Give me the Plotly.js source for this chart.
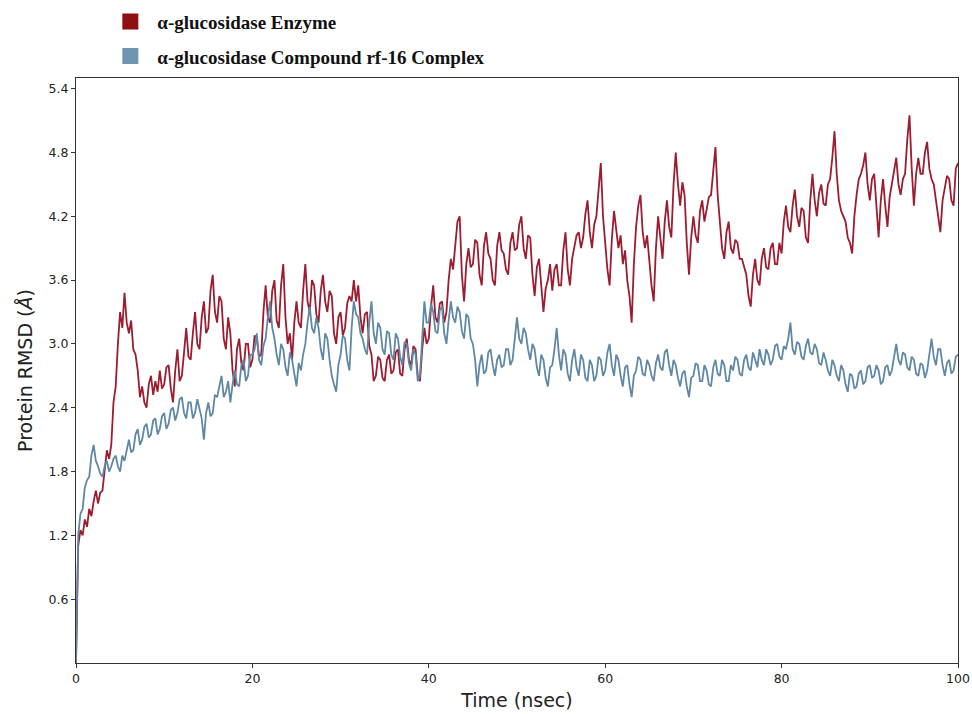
<!DOCTYPE html>
<html>
<head>
<meta charset="utf-8">
<script src="https://cdn.plot.ly/plotly-3.0.1.min.js"></script>
<style>html,body{margin:0;padding:0;background:#fff;}#chart{width:972px;height:714px;}</style>
</head>
<body>
<div id="chart"></div>
<script>
// Time axis (nsec), one sample every 0.25 ns
const timeNs = [0,0.25,0.5,0.75,1,1.25,1.5,1.75,2,2.25,2.5,2.75,3,3.25,3.5,3.75,4,4.25,4.5,4.75,5,5.25,5.5,5.75,6,6.25,6.5,6.75,7,7.25,7.5,7.75,8,8.25,8.5,8.75,9,9.25,9.5,9.75,
10,10.25,10.5,10.75,11,11.25,11.5,11.75,12,12.25,12.5,12.75,13,13.25,13.5,13.75,14,14.25,14.5,14.75,15,15.25,15.5,15.75,16,16.25,16.5,16.75,17,17.25,17.5,17.75,18,18.25,18.5,18.75,19,19.25,19.5,19.75,
20,20.25,20.5,20.75,21,21.25,21.5,21.75,22,22.25,22.5,22.75,23,23.25,23.5,23.75,24,24.25,24.5,24.75,25,25.25,25.5,25.75,26,26.25,26.5,26.75,27,27.25,27.5,27.75,28,28.25,28.5,28.75,29,29.25,29.5,29.75,
30,30.25,30.5,30.75,31,31.25,31.5,31.75,32,32.25,32.5,32.75,33,33.25,33.5,33.75,34,34.25,34.5,34.75,35,35.25,35.5,35.75,36,36.25,36.5,36.75,37,37.25,37.5,37.75,38,38.25,38.5,38.75,39,39.25,39.5,39.75,
40,40.25,40.5,40.75,41,41.25,41.5,41.75,42,42.25,42.5,42.75,43,43.25,43.5,43.75,44,44.25,44.5,44.75,45,45.25,45.5,45.75,46,46.25,46.5,46.75,47,47.25,47.5,47.75,48,48.25,48.5,48.75,49,49.25,49.5,49.75,
50,50.25,50.5,50.75,51,51.25,51.5,51.75,52,52.25,52.5,52.75,53,53.25,53.5,53.75,54,54.25,54.5,54.75,55,55.25,55.5,55.75,56,56.25,56.5,56.75,57,57.25,57.5,57.75,58,58.25,58.5,58.75,59,59.25,59.5,59.75,
60,60.25,60.5,60.75,61,61.25,61.5,61.75,62,62.25,62.5,62.75,63,63.25,63.5,63.75,64,64.25,64.5,64.75,65,65.25,65.5,65.75,66,66.25,66.5,66.75,67,67.25,67.5,67.75,68,68.25,68.5,68.75,69,69.25,69.5,69.75,
70,70.25,70.5,70.75,71,71.25,71.5,71.75,72,72.25,72.5,72.75,73,73.25,73.5,73.75,74,74.25,74.5,74.75,75,75.25,75.5,75.75,76,76.25,76.5,76.75,77,77.25,77.5,77.75,78,78.25,78.5,78.75,79,79.25,79.5,79.75,
80,80.25,80.5,80.75,81,81.25,81.5,81.75,82,82.25,82.5,82.75,83,83.25,83.5,83.75,84,84.25,84.5,84.75,85,85.25,85.5,85.75,86,86.25,86.5,86.75,87,87.25,87.5,87.75,88,88.25,88.5,88.75,89,89.25,89.5,89.75,
90,90.25,90.5,90.75,91,91.25,91.5,91.75,92,92.25,92.5,92.75,93,93.25,93.5,93.75,94,94.25,94.5,94.75,95,95.25,95.5,95.75,96,96.25,96.5,96.75,97,97.25,97.5,97.75,98,98.25,98.5,98.75,99,99.25,99.5,99.75,100];

// Protein RMSD (Å) – α-glucosidase enzyme
const enzymeRmsd = [0.00,1.10,1.25,1.20,1.35,1.28,1.45,1.38,1.52,1.62,1.50,1.60,1.62,1.80,2.00,1.92,2.05,2.45,2.60,3.00,3.30,3.15,3.48,3.20,3.10,3.22,2.95,2.90,2.75,2.50,2.60,2.45,2.40,2.62,2.70,2.52,2.65,2.55,2.75,2.58,
2.62,2.78,2.80,2.58,2.45,2.75,2.95,2.65,2.70,2.92,3.15,2.88,2.85,3.10,3.30,3.00,2.95,3.25,3.40,3.10,3.15,3.50,3.65,3.30,3.20,3.45,3.40,3.05,2.95,3.25,3.10,2.75,2.60,2.95,3.05,2.82,2.75,3.00,3.00,2.78,
2.85,3.08,3.05,2.88,2.90,3.30,3.55,3.25,3.20,3.50,3.60,3.22,3.15,3.55,3.75,3.25,3.00,3.10,2.85,3.20,3.40,3.20,3.15,3.50,3.75,3.40,3.30,3.60,3.55,3.28,3.20,3.50,3.65,3.40,3.30,3.50,3.45,3.10,3.00,3.25,
3.30,3.08,3.15,3.38,3.45,3.40,3.60,3.40,3.55,3.25,3.10,3.28,3.30,2.98,2.90,2.65,2.70,2.88,2.85,2.68,2.65,2.85,2.90,2.72,2.75,2.92,2.95,2.72,2.70,2.95,3.05,2.85,2.80,2.98,2.95,2.70,2.65,2.95,3.15,3.00,
3.05,3.35,3.55,3.25,3.20,3.38,3.40,3.20,3.30,3.60,3.80,3.70,3.95,4.15,4.20,3.65,3.40,3.75,3.90,3.72,3.75,3.98,3.95,3.65,3.55,3.92,4.05,3.85,3.80,3.60,3.55,3.92,4.05,3.88,3.85,3.70,3.65,3.95,4.05,3.88,
3.90,4.12,4.20,3.90,3.80,4.02,4.00,3.65,3.45,3.72,3.80,3.50,3.30,3.52,3.60,3.75,3.50,3.70,3.75,3.55,3.55,3.88,4.05,3.70,3.55,3.80,3.90,4.02,4.05,3.90,4.00,4.22,4.35,4.05,3.90,4.12,4.20,4.45,4.70,4.20,
3.95,3.70,3.55,3.98,4.25,4.05,3.90,4.02,3.75,3.88,3.60,3.45,3.20,3.75,4.10,4.30,4.40,4.05,3.90,4.02,3.75,3.55,3.40,3.90,4.20,3.98,3.80,4.15,4.35,4.10,4.00,4.50,4.80,4.50,4.30,4.52,4.40,3.95,3.65,4.00,
4.20,4.02,3.95,4.25,4.35,4.15,4.25,4.38,4.40,4.65,4.85,4.40,4.10,3.90,3.80,4.05,4.15,3.90,3.85,3.98,3.95,3.80,3.80,3.72,3.65,3.45,3.35,3.65,3.80,3.60,3.55,3.80,3.90,3.72,3.70,3.90,3.95,3.75,3.75,3.95,
3.85,4.15,4.30,4.10,4.05,4.30,4.45,4.20,4.10,4.28,4.25,4.00,3.95,4.35,4.60,4.35,4.20,4.42,4.50,4.32,4.30,4.50,4.55,4.75,5.00,4.60,4.35,4.25,4.20,4.15,4.00,3.95,3.85,4.20,4.40,4.55,4.60,4.68,4.80,4.50,
4.35,4.55,4.60,4.25,4.00,4.35,4.55,4.30,4.10,4.38,4.50,4.62,4.75,4.50,4.40,4.55,4.60,4.92,5.15,4.65,4.30,4.60,4.75,4.60,4.60,4.80,4.90,4.65,4.55,4.50,4.35,4.18,4.05,4.35,4.45,4.58,4.55,4.35,4.30,4.65,4.70];

// Protein RMSD (Å) – α-glucosidase compound rf-16 complex
const complexRmsd = [0.00,1.20,1.40,1.45,1.65,1.72,1.75,1.95,2.05,1.90,1.85,1.78,1.75,1.85,1.90,1.80,1.85,1.92,1.95,1.85,1.80,1.95,1.90,2.00,2.10,1.98,2.00,2.15,2.20,2.05,2.10,2.22,2.25,2.12,2.15,2.28,2.30,2.15,2.20,2.32,
2.35,2.20,2.25,2.38,2.40,2.28,2.35,2.48,2.50,2.35,2.30,2.45,2.45,2.30,2.35,2.48,2.40,2.30,2.10,2.35,2.45,2.32,2.35,2.52,2.50,2.62,2.70,2.50,2.55,2.65,2.45,2.62,2.75,2.62,2.60,2.80,2.85,2.65,2.70,2.90,
2.90,2.95,3.10,2.85,2.80,2.98,3.05,3.25,3.40,3.15,3.05,2.90,2.80,3.00,2.95,2.78,2.70,2.92,2.85,2.72,2.60,2.82,2.75,2.90,3.00,3.20,3.35,3.15,3.10,3.25,3.15,2.95,2.85,3.10,3.05,2.85,2.70,2.62,2.55,2.80,
2.90,3.08,3.05,2.85,2.75,3.15,3.40,3.28,3.25,3.10,3.05,2.95,2.90,3.20,3.40,3.10,3.00,3.20,3.15,2.95,2.90,3.12,3.10,2.90,2.85,3.10,3.05,2.88,2.80,3.02,3.00,2.82,2.75,2.95,2.90,2.65,2.70,3.05,3.40,3.20,
3.20,3.38,3.30,3.12,3.10,3.32,3.35,3.10,3.00,3.22,3.40,3.25,3.20,3.35,3.30,3.12,3.05,3.28,3.25,3.05,3.00,2.85,2.60,2.80,2.90,2.72,2.75,2.92,2.95,2.80,2.70,2.85,2.90,2.78,2.80,2.95,2.95,2.80,2.85,3.05,
3.25,3.05,3.00,3.15,3.10,2.95,2.85,3.00,2.95,2.78,2.70,2.90,2.85,2.68,2.60,2.78,2.80,2.95,3.15,2.90,2.75,2.95,2.90,2.72,2.65,2.85,2.95,2.78,2.70,2.90,2.85,2.68,2.65,2.85,2.80,2.65,2.70,2.88,2.85,2.70,
2.75,2.92,3.00,2.80,2.70,2.90,2.85,2.70,2.60,2.78,2.80,2.62,2.50,2.70,2.75,2.88,2.85,2.72,2.70,2.85,2.80,2.70,2.65,2.82,2.90,2.78,2.75,2.92,2.95,2.80,2.70,2.85,2.80,2.68,2.60,2.72,2.75,2.60,2.50,2.68,
2.70,2.82,2.80,2.65,2.65,2.80,2.75,2.62,2.60,2.78,2.85,2.72,2.70,2.85,2.80,2.65,2.65,2.80,2.75,2.88,2.85,2.72,2.70,2.85,2.90,2.78,2.75,2.92,2.85,2.78,2.95,2.85,2.80,2.95,2.90,2.80,2.85,2.98,3.00,2.88,
2.85,2.98,2.95,3.05,3.20,2.95,2.90,3.02,3.00,2.88,2.85,2.98,3.05,2.92,2.90,3.00,2.95,2.82,2.80,2.92,2.85,2.75,2.70,2.85,2.80,2.70,2.65,2.80,2.75,2.62,2.55,2.72,2.70,2.58,2.60,2.72,2.75,2.62,2.65,2.78,
2.80,2.68,2.70,2.80,2.75,2.62,2.65,2.78,2.80,2.70,2.75,2.88,3.00,2.85,2.80,2.92,2.90,2.78,2.75,2.88,2.85,2.72,2.70,2.82,2.80,2.68,2.75,2.90,3.05,2.88,2.80,2.95,2.95,2.80,2.70,2.82,2.85,2.72,2.75,2.88,2.90];

const seriesNames = ["α-glucosidase Enzyme", "α-glucosidase Compound rf-16 Complex"];
const yTickVals = [0.6,1.2,1.8,2.4,3.0,3.6,4.2,4.8,5.4];
const yTickText = ["0.6","1.2","1.8","2.4","3.0","3.6","4.2","4.8","5.4"];
const xTickVals = [0,20,40,60,80,100];

const redLine = "#9c1c30";
const blueLine = "#5f88a5";
const redKey = "#8e0f14";
const blueKey = "#6e96b1";

const traces = [
  {x: timeNs, y: enzymeRmsd, type: "scatter", mode: "lines", line: {color: redLine, width: 1.8}, showlegend: false, hoverinfo: "x+y"},
  {x: timeNs, y: complexRmsd, type: "scatter", mode: "lines", line: {color: blueLine, width: 1.8}, showlegend: false, hoverinfo: "x+y"},
  {x: [null], y: [null], type: "scatter", mode: "markers", name: seriesNames[0], legendgroup: "a",
   marker: {symbol: "square", size: 19, color: redKey}},
  {x: [null], y: [null], type: "scatter", mode: "markers", name: seriesNames[1], legendgroup: "b",
   marker: {symbol: "square", size: 19, color: blueKey}}
];

const axisCommon = {
  showline: true, linecolor: "#333", linewidth: 1, mirror: true,
  ticks: "outside", ticklen: 4, tickwidth: 1, tickcolor: "#333",
  showgrid: false, zeroline: false,
  tickfont: {family: "DejaVu Sans", size: 12.5, color: "#222"}
};

const layout = {
  width: 972, height: 714,
  paper_bgcolor: "#fff", plot_bgcolor: "#fff",
  margin: {l: 76, r: 14, t: 78, b: 51, autoexpand: false},
  showlegend: true,
  legend: {
    x: 0.031, xanchor: "left", y: 1.129, yanchor: "top",
    font: {family: "Liberation Serif", size: 19, color: "#111", weight: "bold"},
    itemwidth: 44, tracegroupgap: 7, bgcolor: "rgba(0,0,0,0)"
  },
  xaxis: Object.assign({}, axisCommon, {
    range: [0, 100], tickvals: xTickVals,
    title: {text: "Time (nsec)", font: {family: "DejaVu Sans", size: 19, color: "#222"}, standoff: 8}
  }),
  yaxis: Object.assign({}, axisCommon, {
    range: [0, 5.5], tickvals: yTickVals, ticktext: yTickText,
    title: {text: "Protein RMSD (<i>Å</i>)", font: {family: "DejaVu Sans", size: 19, color: "#222"}, standoff: 10}
  })
};

Plotly.newPlot("chart", traces, layout, {displayModeBar: false, staticPlot: true});
</script>
</body>
</html>
